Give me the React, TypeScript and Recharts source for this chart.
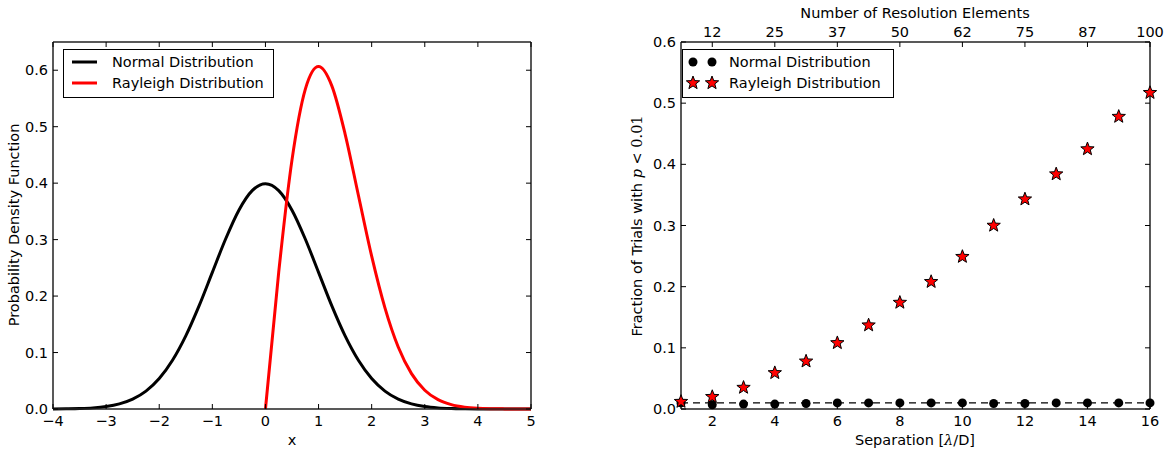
import { Legend, Line, LineChart, ReferenceLine, Scatter, ScatterChart, XAxis, YAxis } from "recharts";

const FONT = "'DejaVu Sans', sans-serif";
const INK = "#000";
const FS = 14.5;
const TICK = 5;

// left panel: probability density curves, sampled every 0.25
const xGrid = [
  -4, -3.75, -3.5, -3.25, -3, -2.75, -2.5, -2.25, -2, -1.75, -1.5, -1.25, -1, -0.75, -0.5, -0.25, 0,
  0.25, 0.5, 0.75, 1, 1.25, 1.5, 1.75, 2, 2.25, 2.5, 2.75, 3, 3.25, 3.5, 3.75, 4, 4.25, 4.5, 4.75, 5
];
const normalPdf = [
  0.0001, 0.0004, 0.0009, 0.002, 0.0044, 0.0091, 0.0175, 0.0317, 0.054, 0.0863, 0.1295, 0.1826, 0.242,
  0.3011, 0.3521, 0.3867, 0.3989, 0.3867, 0.3521, 0.3011, 0.242, 0.1826, 0.1295, 0.0863, 0.054, 0.0317,
  0.0175, 0.0091, 0.0044, 0.002, 0.0009, 0.0004, 0.0001, 0.00005, 0.00002, 0.00001, 0
];
const rayleighPdf = [
  null, null, null, null, null, null, null, null, null, null, null, null, null, null, null, null, 0,
  0.2423, 0.4412, 0.5661, 0.6065, 0.5723, 0.487, 0.3785, 0.2707, 0.1791, 0.1098, 0.0627, 0.0333, 0.0165,
  0.0077, 0.0033, 0.0013, 0.0005, 0.0002, 0.0001, 0
];
const pdfTicksX = [-4, -3, -2, -1, 0, 1, 2, 3, 4, 5];
const pdfTicksY = [0, 0.1, 0.2, 0.3, 0.4, 0.5, 0.6];

// right panel: fraction of trials with p < 0.01
const separation = [1, 2, 3, 4, 5, 6, 7, 8, 9, 10, 11, 12, 13, 14, 15, 16];
const normalFraction = [0.01, 0.007, 0.008, 0.008, 0.009, 0.01, 0.01, 0.01, 0.01, 0.01, 0.009, 0.009, 0.01, 0.01, 0.01, 0.01];
const rayleighFraction = [
  0.012, 0.02, 0.035, 0.059, 0.078, 0.108, 0.137, 0.174, 0.208, 0.249, 0.3, 0.343, 0.384, 0.425, 0.478, 0.517
];
const separationTicks = [2, 4, 6, 8, 10, 12, 14, 16];
const resolutionLabels = ["12", "25", "37", "50", "62", "75", "87", "100"];
const fractionTicks = [0, 0.1, 0.2, 0.3, 0.4, 0.5, 0.6];
const threshold = 0.01;

const pdfData = xGrid.map((x, i) => ({ x, normal: normalPdf[i], rayleigh: rayleighPdf[i] }));
const normalPoints = separation.map((x, i) => ({ x, y: normalFraction[i] }));
const rayleighPoints = separation.map((x, i) => ({ x, y: rayleighFraction[i] }));

const fmtInt = (v: number) => (v < 0 ? "\u2212" + Math.abs(v) : String(v));
const fmtDec = (v: number) => v.toFixed(1);

function BottomTick({ x, y, payload, format }: any) {
  return (
    <g>
      <line x1={x} y1={y} x2={x} y2={y - TICK} stroke={INK} />
      <text x={x} y={y + 17} textAnchor="middle" fontFamily={FONT} fontSize={FS} fill={INK}>
        {format(payload.value)}
      </text>
    </g>
  );
}

function TopTick({ x, y, payload, labels }: any) {
  const i = separationTicks.indexOf(payload.value);
  return (
    <g>
      <line x1={x} y1={y} x2={x} y2={y + TICK} stroke={INK} />
      {labels && (
        <text x={x} y={y - 5} textAnchor="middle" fontFamily={FONT} fontSize={FS} fill={INK}>
          {labels[i]}
        </text>
      )}
    </g>
  );
}

function LeftTick({ x, y, payload }: any) {
  return (
    <g>
      <line x1={x} y1={y} x2={x + TICK} y2={y} stroke={INK} />
      <text x={x - 5} y={y + 5} textAnchor="end" fontFamily={FONT} fontSize={FS} fill={INK}>
        {fmtDec(payload.value)}
      </text>
    </g>
  );
}

function RightTick({ x, y }: any) {
  return <line x1={x} y1={y} x2={x - TICK} y2={y} stroke={INK} />;
}

function starPath(cx: number, cy: number, r: number) {
  const pts: string[] = [];
  for (let k = 0; k < 10; k++) {
    const rad = k % 2 === 0 ? r : r * 0.42;
    const a = -Math.PI / 2 + (k * Math.PI) / 5;
    pts.push(`${cx + rad * Math.cos(a)},${cy + rad * Math.sin(a)}`);
  }
  return "M" + pts.join("L") + "Z";
}

const StarMark = ({ cx, cy }: any) => <path d={starPath(cx, cy, 7)} fill="#ff0000" stroke={INK} strokeWidth={1} />;
const DotMark = ({ cx, cy }: any) => <circle cx={cx} cy={cy} r={4.5} fill={INK} />;
const NoMark = () => <g />;

const textStyle = { fontFamily: FONT, fontSize: FS, fill: INK };

function PdfLegend() {
  return (
    <svg width={211} height={49} style={{ display: "block" }}>
      <rect x={0.5} y={0.5} width={210} height={48} fill="#fff" stroke={INK} />
      <line x1={9} y1={13} x2={34} y2={13} stroke={INK} strokeWidth={3} />
      <line x1={9} y1={34} x2={34} y2={34} stroke="#ff0000" strokeWidth={3} />
      <text x={49} y={18} {...textStyle}>Normal Distribution</text>
      <text x={49} y={39} {...textStyle}>Rayleigh Distribution</text>
    </svg>
  );
}

function FractionLegend() {
  return (
    <svg width={212} height={49} style={{ display: "block" }}>
      <rect x={0.5} y={0.5} width={211} height={48} fill="#fff" stroke={INK} />
      <DotMark cx={11} cy={13} />
      <DotMark cx={30} cy={13} />
      <StarMark cx={11} cy={34} />
      <StarMark cx={30} cy={34} />
      <text x={47} y={18} {...textStyle}>Normal Distribution</text>
      <text x={47} y={39} {...textStyle}>Rayleigh Distribution</text>
    </svg>
  );
}

const frame = { stroke: "#222", strokeWidth: 1.5 };

export default function App() {
  return (
    <div style={{ position: "absolute", left: 0, top: 0, width: 1167, height: 451, background: "#fff" }}>
      <div style={{ position: "absolute", left: 0, top: 0 }}>
        <LineChart width={560} height={451} data={pdfData} margin={{ top: 32, right: 19, bottom: 12, left: 13 }}>
          <XAxis
            dataKey="x"
            type="number"
            domain={[-4, 5]}
            ticks={pdfTicksX}
            interval={0}
            height={30}
            tickSize={0}
            tickMargin={0}
            axisLine={frame}
            tick={(p: any) => <BottomTick {...p} format={fmtInt} />}
          />
          <XAxis
            xAxisId="top"
            dataKey="x"
            orientation="top"
            type="number"
            domain={[-4, 5]}
            ticks={pdfTicksX}
            interval={0}
            height={10}
            tickSize={0}
            tickMargin={0}
            axisLine={frame}
            tick={(p: any) => <TopTick {...p} />}
          />
          <YAxis
            type="number"
            domain={[0, 0.65]}
            ticks={pdfTicksY}
            interval={0}
            width={40}
            tickSize={0}
            tickMargin={0}
            axisLine={frame}
            tick={(p: any) => <LeftTick {...p} />}
          />
          <YAxis
            yAxisId="right"
            orientation="right"
            type="number"
            domain={[0, 0.65]}
            ticks={pdfTicksY}
            interval={0}
            width={10}
            tickSize={0}
            tickMargin={0}
            axisLine={frame}
            tick={(p: any) => <RightTick {...p} />}
          />
          {/* invisible series that ties the top/right frame axes to the data */}
          <Line
            xAxisId="top"
            yAxisId="right"
            dataKey="normal"
            stroke="none"
            dot={false}
            activeDot={false}
            legendType="none"
            isAnimationActive={false}
          />
          <Line dataKey="normal" type="monotone" stroke={INK} strokeWidth={3} dot={false} isAnimationActive={false} />
          <Line dataKey="rayleigh" type="monotone" stroke="#ff0000" strokeWidth={3} dot={false} isAnimationActive={false} />
          <Legend
            layout="horizontal"
            verticalAlign="middle"
            align="center"
            wrapperStyle={{ left: 63, top: 49, width: 211, height: 49 }}
            content={() => <PdfLegend />}
          />
        </LineChart>
      </div>

      <div style={{ position: "absolute", left: 600, top: 0 }}>
        <ScatterChart width={567} height={451} margin={{ top: 12, right: 7, bottom: 12, left: 41 }}>
          <XAxis
            dataKey="x"
            type="number"
            domain={[1, 16]}
            ticks={separationTicks}
            interval={0}
            height={30}
            tickSize={0}
            tickMargin={0}
            axisLine={frame}
            tick={(p: any) => <BottomTick {...p} format={fmtInt} />}
          />
          <XAxis
            xAxisId="top"
            dataKey="x"
            orientation="top"
            type="number"
            domain={[1, 16]}
            ticks={separationTicks}
            interval={0}
            height={30}
            tickSize={0}
            tickMargin={0}
            axisLine={frame}
            tick={(p: any) => <TopTick {...p} labels={resolutionLabels} />}
          />
          <YAxis
            dataKey="y"
            type="number"
            domain={[0, 0.6]}
            ticks={fractionTicks}
            interval={0}
            width={40}
            tickSize={0}
            tickMargin={0}
            axisLine={frame}
            tick={(p: any) => <LeftTick {...p} />}
          />
          <YAxis
            yAxisId="right"
            dataKey="y"
            orientation="right"
            type="number"
            domain={[0, 0.6]}
            ticks={fractionTicks}
            interval={0}
            width={10}
            tickSize={0}
            tickMargin={0}
            axisLine={frame}
            tick={(p: any) => <RightTick {...p} />}
          />
          <ReferenceLine y={threshold} stroke={INK} strokeWidth={1.3} strokeDasharray="7 5" />
          <Scatter
            xAxisId="top"
            yAxisId="right"
            data={rayleighPoints}
            shape={() => <NoMark />}
            legendType="none"
            isAnimationActive={false}
          />
          <Scatter data={normalPoints} shape={(p: any) => <DotMark {...p} />} isAnimationActive={false} />
          <Scatter data={rayleighPoints} shape={(p: any) => <StarMark {...p} />} isAnimationActive={false} />
          <Legend
            layout="horizontal"
            verticalAlign="middle"
            align="center"
            wrapperStyle={{ left: 82, top: 49, width: 212, height: 49 }}
            content={() => <FractionLegend />}
          />
        </ScatterChart>
      </div>

      <svg width={1167} height={451} style={{ position: "absolute", left: 0, top: 0, pointerEvents: "none" }}>
        <text x={19} y={225} transform="rotate(-90 19 225)" textAnchor="middle" {...textStyle}>
          Probability Density Function
        </text>
        <text x={292} y={445} textAnchor="middle" {...textStyle}>x</text>
        <text x={915} y={18} textAnchor="middle" {...textStyle}>Number of Resolution Elements</text>
        <text x={915} y={445} textAnchor="middle" {...textStyle}>
          Separation [<tspan fontFamily="'DejaVu Serif', serif" fontStyle="italic">λ</tspan>/D]
        </text>
        <text x={642} y={226} transform="rotate(-90 642 226)" textAnchor="middle" {...textStyle}>
          Fraction of Trials with{" "}
          <tspan fontFamily="'DejaVu Serif', serif" fontStyle="italic">p</tspan>
          <tspan fontFamily="'DejaVu Serif', serif">{" < 0.01"}</tspan>
        </text>
      </svg>
    </div>
  );
}
